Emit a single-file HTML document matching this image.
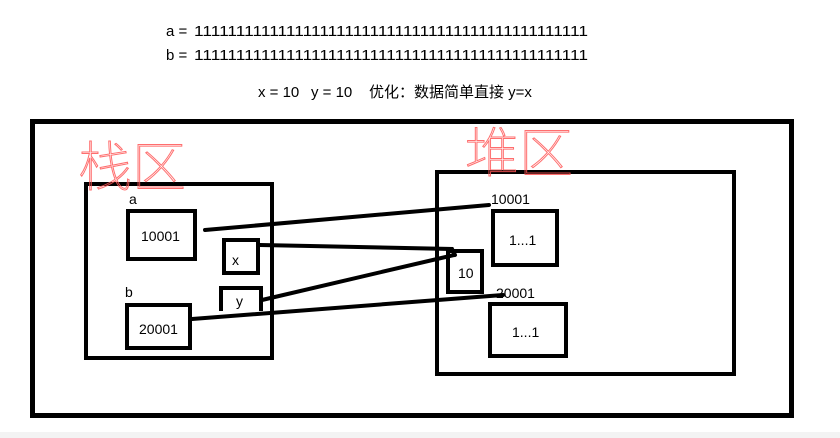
<!DOCTYPE html>
<html><head><meta charset="utf-8"><style>html,body{margin:0;padding:0;background:#fff}svg{display:block}</style></head>
<body>
<svg width="840" height="438" viewBox="0 0 840 438" xmlns="http://www.w3.org/2000/svg">
<rect x="0" y="0" width="840" height="438" fill="#fff"/>
<rect x="0" y="432" width="840" height="6" fill="#f3f3f3"/>
<g font-family="Liberation Sans, Noto Sans CJK SC, sans-serif" font-size="15" fill="#000">
<text x="166" y="36">a =</text><text x="194" y="36" textLength="394" lengthAdjust="spacingAndGlyphs">11111111111111111111111111111111111111111111111</text>
<text x="166" y="60">b =</text><text x="194" y="60" textLength="394" lengthAdjust="spacingAndGlyphs">11111111111111111111111111111111111111111111111</text>
<text x="258" y="97">x = 10</text>
<text x="311" y="97">y = 10</text>
<text x="369" y="97">优化：数据简单直接 y=x</text>
</g>
<g fill="none" stroke="#000">
<rect x="32.5" y="121.5" width="759" height="294" stroke-width="5"/>
<rect x="86" y="184" width="186" height="174" stroke-width="4"/>
<rect x="128" y="211" width="67" height="48" stroke-width="4"/>
<rect x="224" y="240" width="34" height="33" stroke-width="4"/>
<rect x="127" y="305" width="63" height="43" stroke-width="4"/>
<path d="M221 311 V288 H261 V311" stroke-width="4"/>
<rect x="437" y="172" width="297" height="202" stroke-width="4"/>
<rect x="493" y="211" width="64" height="54" stroke-width="4"/>
<rect x="448" y="251" width="34" height="41" stroke-width="4"/>
<rect x="490" y="304" width="76" height="52" stroke-width="4"/>
<g stroke-width="4" stroke-linecap="round">
<line x1="205" y1="230" x2="489" y2="205"/>
<polyline points="260,245 310,246 452,249 455,255"/>
<line x1="262" y1="300" x2="454" y2="255"/>
<line x1="192" y1="319" x2="503" y2="295"/>
</g>
</g>
<g font-family="Liberation Sans, sans-serif" font-size="14" fill="#000">
<text x="129" y="204">a</text>
<text x="125" y="297">b</text>
<text x="141" y="241">10001</text>
<text x="232" y="265">x</text>
<text x="236" y="306">y</text>
<text x="139" y="334">20001</text>
<text x="491" y="204">10001</text>
<text x="496" y="298">20001</text>
<text x="509" y="245">1...1</text>
<text x="458" y="278">10</text>
<text x="512" y="337">1...1</text>
</g>
<g font-family="Noto Sans CJK SC, sans-serif" font-size="54" font-weight="100" fill="none" stroke="#ff5555" stroke-width="1" opacity="0.85">
<text x="78" y="186">栈区</text>
<text x="465" y="172">堆区</text>
</g>
</svg>
</body></html>
